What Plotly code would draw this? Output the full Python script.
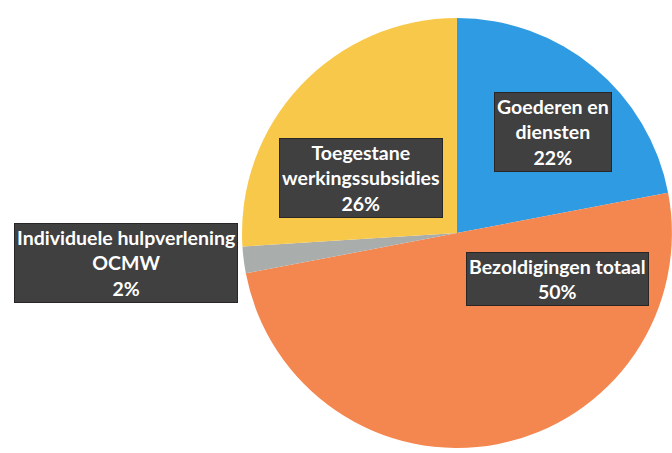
import plotly.graph_objects as go

# slice data, clockwise from 12 o'clock
labels = ["Goederen en diensten", "Bezoldigingen totaal", "Individuele hulpverlening OCMW", "Toegestane werkingssubsidies"]
values = [22, 50, 2, 26]
colors = ["#2f9be3", "#f4864f", "#a9adac", "#f8c84b"]

# label box text and where the boxes sit (paper px)
box_text = [
    "Goederen en<br>diensten<br>22%",
    "Bezoldigingen totaal<br>50%",
    "Individuele hulpverlening<br>OCMW<br>2%",
    "Toegestane<br>werkingssubsidies<br>26%",
]
box_pos = [(553, 132), (557, 279), (126, 263), (361, 178)]

W, H = 672, 453

fig = go.Figure(go.Pie(
    labels=labels,
    values=values,
    sort=False,
    direction="clockwise",
    rotation=0,
    marker=dict(colors=colors, line=dict(color="rgba(0,0,0,0)", width=0)),
    textinfo="none",
    hoverinfo="label+percent",
    domain=dict(x=[0.36, 1.0], y=[0.011, 0.960]),
    showlegend=False,
))

for txt, (px_, py_) in zip(box_text, box_pos):
    fig.add_annotation(
        x=px_ / W, y=1 - py_ / H, xref="paper", yref="paper",
        xanchor="center", yanchor="middle",
        text=txt, showarrow=False, align="center",
        font=dict(family="Lato", size=19.5, color="white", weight="bold"),
        bgcolor="#404040", bordercolor="#2a2626", borderwidth=1, borderpad=2,
    )

fig.update_layout(
    width=W, height=H,
    margin=dict(l=0, r=0, t=0, b=0),
    paper_bgcolor="white",
    plot_bgcolor="white",
)

# drop the default body margin so the figure fills the window
fig.write_html(
    "out.html",
    config={"displayModeBar": False},
    post_script="document.body.style.margin='0';document.body.style.overflow='hidden';",
)
